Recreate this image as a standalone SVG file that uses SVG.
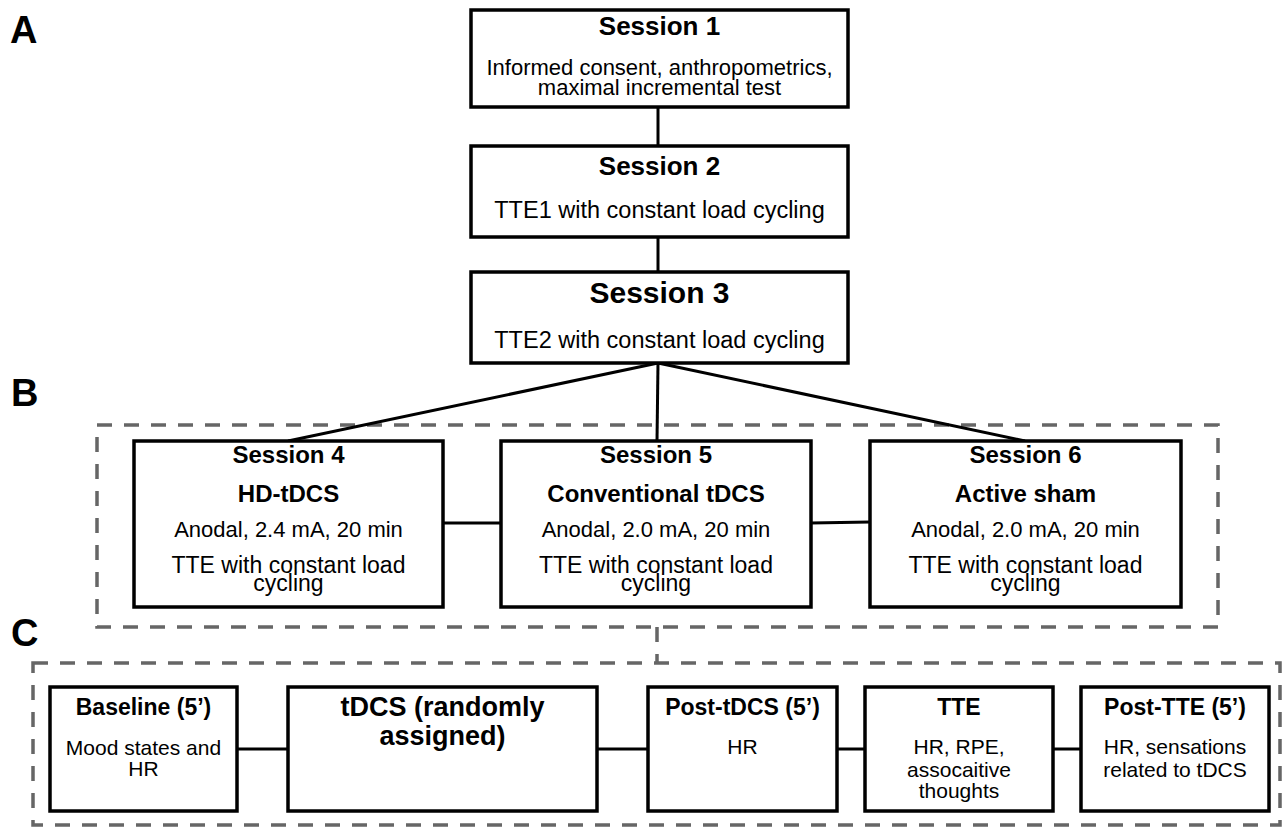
<svg xmlns="http://www.w3.org/2000/svg" width="1288" height="827" viewBox="0 0 1288 827">
<style>
text{font-family:"Liberation Sans",Arial,Helvetica,sans-serif;fill:#000;text-anchor:middle}
.b{font-weight:bold}
.lbl{font-weight:bold;font-size:38px;text-anchor:start}
.box{fill:#fff;stroke:#000;stroke-width:3.5}
.con{stroke:#000;stroke-width:3;fill:none}
.dash{fill:none;stroke:#666;stroke-width:3.5;stroke-dasharray:15 12}
</style>
<rect width="1288" height="827" fill="#fff"/>
<text class="lbl" x="10" y="43">A</text>
<text class="lbl" x="11" y="406">B</text>
<text class="lbl" x="11" y="646">C</text>
<g id="groups">
<rect class="dash" x="97" y="425" width="1121" height="202"/>
<rect class="dash" x="33" y="663" width="1247" height="162"/>
</g>
<g id="connectors">
<line class="con" x1="658" y1="107" x2="658" y2="146"/>
<line class="con" x1="658" y1="237" x2="658" y2="272"/>
<line class="con" x1="658" y1="363" x2="288" y2="441"/>
<line class="con" x1="658" y1="363" x2="657" y2="441"/>
<line class="con" x1="658" y1="363" x2="1025" y2="441"/>
<line class="con" x1="443" y1="523" x2="501" y2="523"/>
<line class="con" x1="811" y1="523" x2="870" y2="522"/>
<line class="dash" x1="657" y1="627" x2="657" y2="663"/>
<line class="con" x1="237" y1="749" x2="288" y2="749"/>
<line class="con" x1="597" y1="749" x2="648" y2="749"/>
<line class="con" x1="837" y1="749" x2="865" y2="749"/>
<line class="con" x1="1053" y1="749" x2="1081" y2="749"/>
</g>
<g id="session1">
<rect class="box" x="471" y="10" width="377" height="97"/>
<text class="b" x="659.5" y="35" font-size="26">Session 1</text>
<text x="659.5" y="75" font-size="22">Informed consent, anthropometrics,</text>
<text x="659.5" y="95" font-size="22">maximal incremental test</text>
</g>
<g id="session2">
<rect class="box" x="471" y="146" width="377" height="91"/>
<text class="b" x="659.5" y="175" font-size="26">Session 2</text>
<text x="659.5" y="218" font-size="23.5">TTE1 with constant load cycling</text>
</g>
<g id="session3">
<rect class="box" x="471" y="272" width="377" height="91"/>
<text class="b" x="659.5" y="303" font-size="30">Session 3</text>
<text x="659.5" y="348" font-size="23.5">TTE2 with constant load cycling</text>
</g>
<g id="session4">
<rect class="box" x="134" y="441" width="309" height="166"/>
<text class="b" x="288.5" y="463" font-size="24">Session 4</text>
<text class="b" x="288.5" y="502" font-size="24">HD-tDCS</text>
<text x="288.5" y="537" font-size="22">Anodal, 2.4 mA, 20 min</text>
<text x="288.5" y="573" font-size="23">TTE with constant load</text>
<text x="288.5" y="591" font-size="23">cycling</text>
</g>
<g id="session5">
<rect class="box" x="501" y="441" width="310" height="166"/>
<text class="b" x="656" y="463" font-size="24">Session 5</text>
<text class="b" x="656" y="502" font-size="24">Conventional tDCS</text>
<text x="656" y="537" font-size="22">Anodal, 2.0 mA, 20 min</text>
<text x="656" y="573" font-size="23">TTE with constant load</text>
<text x="656" y="591" font-size="23">cycling</text>
</g>
<g id="session6">
<rect class="box" x="870" y="441" width="311" height="166"/>
<text class="b" x="1025.5" y="463" font-size="24">Session 6</text>
<text class="b" x="1025.5" y="502" font-size="24">Active sham</text>
<text x="1025.5" y="537" font-size="22">Anodal, 2.0 mA, 20 min</text>
<text x="1025.5" y="573" font-size="23">TTE with constant load</text>
<text x="1025.5" y="591" font-size="23">cycling</text>
</g>
<g id="baseline">
<rect class="box" x="50" y="687" width="187" height="124"/>
<text class="b" x="143.5" y="715" font-size="23">Baseline (5’)</text>
<text x="143.5" y="755" font-size="21">Mood states and</text>
<text x="143.5" y="776" font-size="21">HR</text>
</g>
<g id="tdcs">
<rect class="box" x="288" y="687" width="309" height="124"/>
<text class="b" x="442.5" y="716" font-size="27">tDCS (randomly</text>
<text class="b" x="442.5" y="745" font-size="27">assigned)</text>
</g>
<g id="post-tdcs">
<rect class="box" x="648" y="687" width="189" height="124"/>
<text class="b" x="742.5" y="715" font-size="23">Post-tDCS (5’)</text>
<text x="742.5" y="754" font-size="21">HR</text>
</g>
<g id="tte">
<rect class="box" x="865" y="687" width="188" height="124"/>
<text class="b" x="959" y="715" font-size="23">TTE</text>
<text x="959" y="754" font-size="21">HR, RPE,</text>
<text x="959" y="777" font-size="21">assocaitive</text>
<text x="959" y="798" font-size="21">thoughts</text>
</g>
<g id="post-tte">
<rect class="box" x="1081" y="687" width="188" height="124"/>
<text class="b" x="1175" y="715" font-size="23">Post-TTE (5’)</text>
<text x="1175" y="754" font-size="21">HR, sensations</text>
<text x="1175" y="777" font-size="21">related to tDCS</text>
</g>
</svg>
